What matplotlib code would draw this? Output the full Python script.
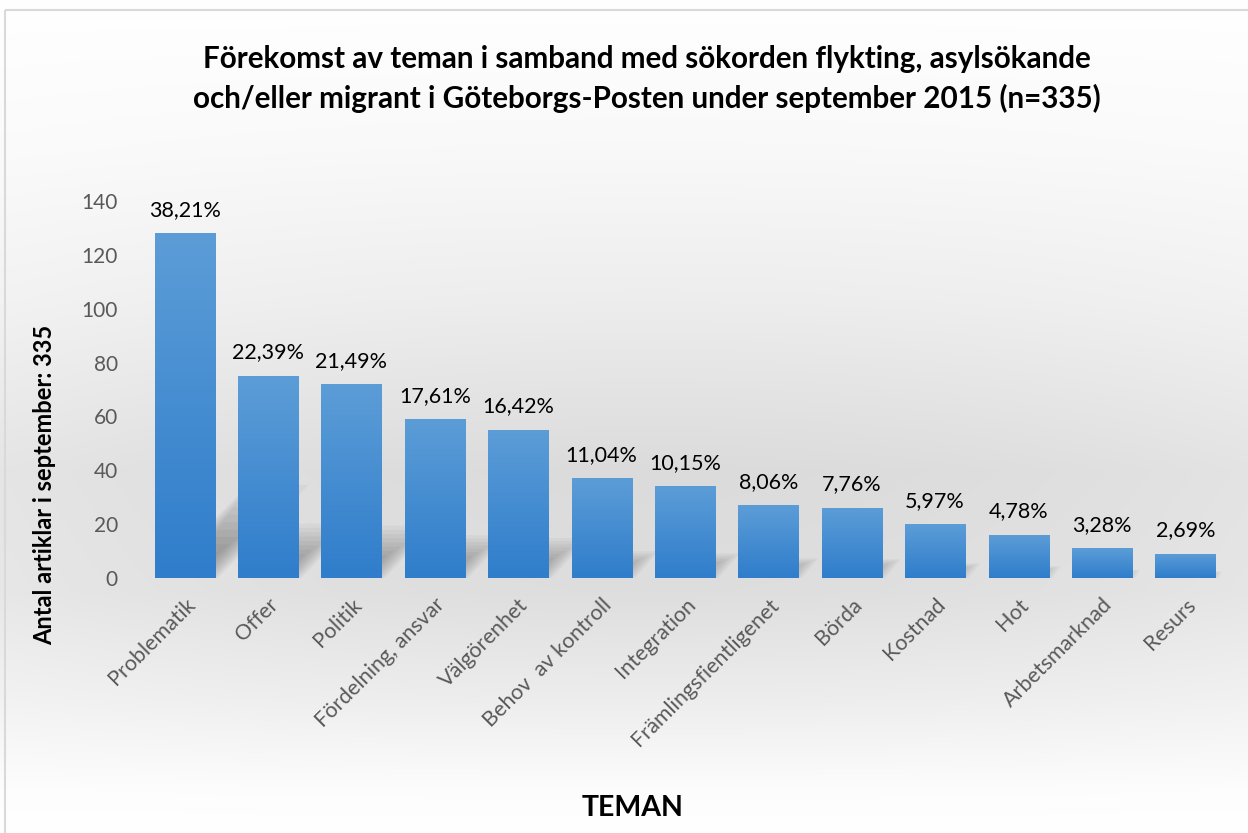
import numpy as np
import matplotlib.pyplot as plt
from matplotlib.patches import Rectangle, Polygon

# data
teman = ['Problematik', 'Offer', 'Politik', 'Fördelning, ansvar', 'Välgörenhet',
         'Behov  av kontroll', 'Integration', 'Främlingsfientligenet', 'Börda',
         'Kostnad', 'Hot', 'Arbetsmarknad', 'Resurs']
antal = [128, 75, 72, 59, 55, 37, 34, 27, 26, 20, 16, 11, 9]
procent = ['38,21%', '22,39%', '21,49%', '17,61%', '16,42%', '11,04%', '10,15%',
           '8,06%', '7,76%', '5,97%', '4,78%', '3,28%', '2,69%']
yticks = [0, 20, 40, 60, 80, 100, 120, 140]

plt.rcParams['font.family'] = ['Lato', 'DejaVu Sans']

W, H = 1248, 833
fig = plt.figure(figsize=(W / 100, H / 100), dpi=100)

# background gradient over whole figure
bg = fig.add_axes([0, 0, 1, 1], zorder=-10)
yy, xx = np.mgrid[0:H, 0:W]
prof = np.interp(yy, [0, 150, 300, 470, 590, 700, 790, 833],
                 [1.0, 0.975, 0.93, 0.86, 0.87, 0.93, 0.99, 1.0])
side = 1 - 0.35 * (1 - prof) * ((xx - 650) / 700.0) ** 2
val = np.clip(prof / side, 0, 1)
img = np.dstack([val, val, val])
bg.imshow(img, extent=[0, W, H, 0], aspect='auto')
bg.add_patch(Rectangle((5, 10), W, H, fill=False, edgecolor='#d9d9d9', lw=1.5))
bg.set_xlim(0, W)
bg.set_ylim(H, 0)
bg.axis('off')

ax = fig.add_axes([143 / W, 1 - 578 / H, (1227 - 143) / W, (578 - 201) / H])
ax.patch.set_alpha(0)
x = np.arange(len(teman))
bw = 0.72

grad = np.linspace(0, 1, 256).reshape(-1, 1)
top_c = np.array([92, 157, 215]) / 255
bot_c = np.array([47, 125, 203]) / 255
bar_img = (bot_c[None, None, :] * (1 - grad[:, :, None]) + top_c[None, None, :] * grad[:, :, None])

for xi, h, lab in zip(x, antal, procent):
    # soft shadow
    dy = 0.27 * h
    dx = 0.0088 * h
    for k in range(10):
        s = 1 - k * 0.08
        e = 0.03 * k
        poly = Polygon([(xi - bw / 2 + e, 0), (xi + bw / 2 + 0.04 - e, 0),
                        (xi + bw / 2 + dx * s - e, dy * s),
                        (xi - bw / 2 + dx * s + e, dy * s)],
                       closed=True, facecolor='black', alpha=0.034,
                       edgecolor='none', zorder=1)
        ax.add_patch(poly)
    rect = Rectangle((xi - bw / 2, 0), bw, h, facecolor='none', edgecolor='none', zorder=3)
    ax.add_patch(rect)
    im = ax.imshow(bar_img, extent=[xi - bw / 2, xi + bw / 2, 0, h], origin='lower',
                   aspect='auto', zorder=3)
    im.set_clip_path(rect)
    ax.text(xi, h + 5, lab, ha='center', va='bottom', fontsize=15.5, color='black')

ax.set_aspect('auto')
ax.set_xlim(-0.5, len(teman) - 0.5)
ax.set_ylim(0, 140)
ax.set_yticks(yticks)
ax.set_yticklabels([str(v) for v in yticks], fontsize=15, color='#595959')
ax.set_xticks(x)
ax.set_xticklabels(teman, rotation=45, ha='right', rotation_mode='anchor',
                   fontsize=15.5, color='#595959')
ax.tick_params(axis='both', length=0)
ax.tick_params(axis='y', pad=18)
ax.tick_params(axis='x', pad=12)
for sp in ax.spines.values():
    sp.set_visible(False)

fig.text(647 / W, 1 - 79 / H,
         'Förekomst av teman i samband med sökorden flykting, asylsökande\n'
         'och/eller migrant i Göteborgs-Posten under september 2015 (n=335)',
         ha='center', va='center', fontsize=21.3, fontweight='bold',
         linespacing=1.45)
fig.text(45 / W, 1 - 485 / H, 'Antal artiklar i september: 335', rotation=90,
         ha='center', va='center', fontsize=17, fontweight='bold')
fig.text(633 / W, 1 - 808 / H, 'TEMAN', ha='center', va='center',
         fontsize=20.5, fontweight='bold')

fig.savefig('out.png', dpi=100)
